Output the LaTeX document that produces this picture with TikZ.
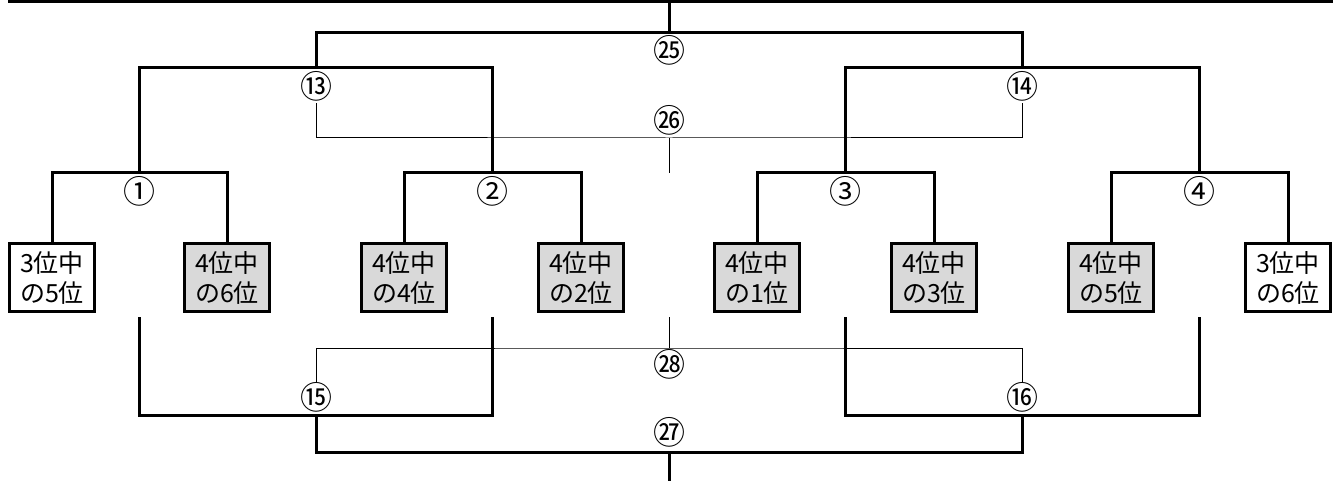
\documentclass[tikz,border=0pt]{standalone}
\usepackage{fontspec}
\setmainfont{Noto Sans CJK JP}
\usetikzlibrary{positioning}

\begin{document}
\begin{tikzpicture}[
    x=1pt, y=-1pt, % Pixel-like units, origin at top left
    bracket/.style={line width=3pt}, % Style for the main bracket lines
    thinline/.style={line width=1pt}, % Style for the thin bracket lines
    seed/.style={draw, line width=3pt, minimum width=85pt, minimum height=68pt,
                 inner sep=0pt, align=center, font=\fontsize{25}{30}\selectfont}, % Entry boxes
    graybox/.style={seed, fill=black!15}, % Shaded entry boxes
    num/.style={inner sep=0pt, text height=28pt, text depth=5pt, minimum height=33pt,
                font=\fontsize{32}{32}\selectfont} % Match numbers
]
    \useasboundingbox (0,0) rectangle (1339,481);

    % Entry boxes
    \node[seed]     (b1) at (52,277.5)   {3位中\\の5位};
    \node[graybox]  (b2) at (227,277.5)  {4位中\\の6位};
    \node[graybox]  (b3) at (404,277.5)  {4位中\\の4位};
    \node[graybox]  (b4) at (581,277.5)  {4位中\\の2位};
    \node[graybox]  (b5) at (757,277.5)  {4位中\\の1位};
    \node[graybox]  (b6) at (934,277.5)  {4位中\\の3位};
    \node[graybox]  (b7) at (1111,277.5) {4位中\\の5位};
    \node[seed]     (b8) at (1288,277.5) {3位中\\の6位};

    % Junction points of the upper bracket
    \coordinate (R1)  at (139.5,173);
    \coordinate (R2)  at (492.5,173);
    \coordinate (R3)  at (845.5,173);
    \coordinate (R4)  at (1199.5,173);
    \coordinate (R13) at (316,68);
    \coordinate (R14) at (1022.5,68);
    \coordinate (R25) at (669,33);
    \coordinate (Top) at (669,1.5);
    \coordinate (TL)  at (8,1.5);
    \coordinate (TR)  at (1333,1.5);

    % Junction points of the lower bracket
    \coordinate (D1)  at (139.5,317);
    \coordinate (D2)  at (492.5,317);
    \coordinate (D3)  at (845.5,317);
    \coordinate (D4)  at (1199.5,317);
    \coordinate (R15) at (316,415);
    \coordinate (R16) at (1022.5,415);
    \coordinate (R27) at (669,452);
    \coordinate (Bot) at (669,481);

    % Thin lines in the middle
    \coordinate (L26) at (669,138);
    \coordinate (C26) at (669,173);
    \coordinate (C28) at (669,317);
    \coordinate (L28) at (669,348);

    % Top line
    \draw[bracket] (TL) -- (TR);

    % First round
    \draw[bracket] (b1.north) |- (R1) -| (b2.north);
    \draw[bracket] (b3.north) |- (R2) -| (b4.north);
    \draw[bracket] (b5.north) |- (R3) -| (b6.north);
    \draw[bracket] (b7.north) |- (R4) -| (b8.north);

    % Second round and final
    \draw[bracket] (R1) |- (R13) -| (R2);
    \draw[bracket] (R3) |- (R14) -| (R4);
    \draw[bracket] (R13) |- (R25) -| (R14);
    \draw[bracket] (R25) -- (Top);

    % Lower bracket
    \draw[bracket] (D1) |- (R15) -| (D2);
    \draw[bracket] (D3) |- (R16) -| (D4);
    \draw[bracket] (R15) |- (R27) -| (R16);
    \draw[bracket] (R27) -- (Bot);

    % Match numbers
    \node[num, below=2pt] (n1)  at (R1)  {①};
    \node[num, below=2pt] (n2)  at (R2)  {②};
    \node[num, below=2pt] (n3)  at (R3)  {③};
    \node[num, below=2pt] (n4)  at (R4)  {④};
    \node[num, below=2pt] (n13) at (R13) {⑬};
    \node[num, below=2pt] (n14) at (R14) {⑭};
    \node[num, below=1pt] (n25) at (R25) {㉕};
    \node[num, above=0pt] (n26) at (L26) {㉖};
    \node[num, above=0pt] (n15) at (R15) {⑮};
    \node[num, above=0pt] (n16) at (R16) {⑯};
    \node[num, above=2pt] (n27) at (R27) {㉗};
    \node[num, below=0pt] (n28) at (L28) {㉘};

    % Thin brackets
    \draw[thinline] (n13.south) |- (L26) -| (n14.south);
    \draw[thinline] (L26) -- (C26);
    \draw[thinline] (n15.north) |- (L28) -| (n16.north);
    \draw[thinline] (C28) -- (L28);

\end{tikzpicture}
\end{document}
